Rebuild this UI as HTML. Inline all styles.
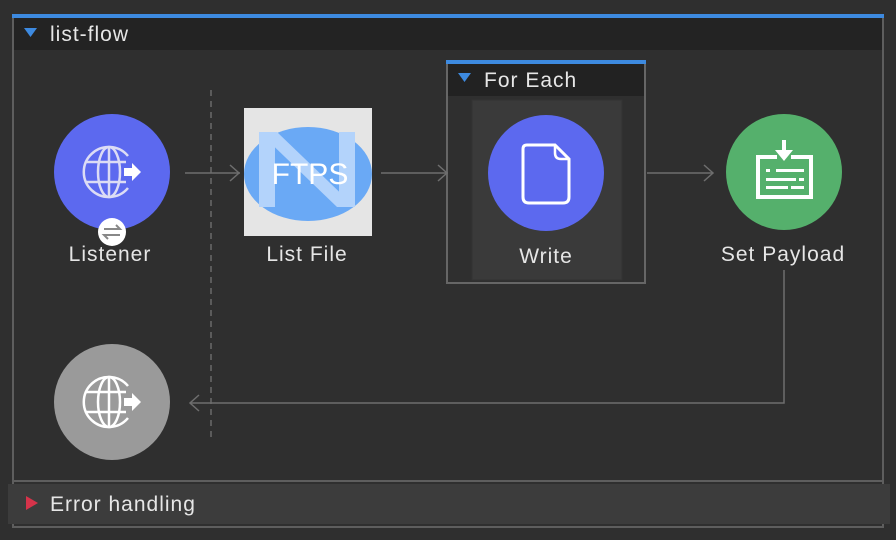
<!DOCTYPE html>
<html><head><meta charset="utf-8"><style>
html,body{margin:0;padding:0;background:#2f2f2f;width:896px;height:540px;overflow:hidden;font-family:"Liberation Sans",sans-serif;}
</style></head><body>
<svg width="896" height="540" xmlns="http://www.w3.org/2000/svg" font-family="Liberation Sans, sans-serif">
<rect width="896" height="540" fill="#2f2f2f"/>
<!-- outer frame -->
<rect x="13" y="17" width="870" height="510" fill="none" stroke="#5e5e5e" stroke-width="2"/>
<rect x="14" y="18" width="868" height="32" fill="#232323"/>
<rect x="12" y="14" width="872" height="4" fill="#3d8ae0"/>
<polygon points="24,28 37,28 30.5,37" fill="#3d8ae0"/>
<text x="50" y="41" fill="#e6e6e6" font-size="21" letter-spacing="1">list-flow</text>
<!-- error handling -->
<line x1="14" y1="481" x2="882" y2="481" stroke="#5e5e5e" stroke-width="2"/>
<rect x="8" y="484" width="882" height="40" fill="#3c3c3c"/>
<polygon points="26,496 26,510 38,503" fill="#d6334a"/>
<text x="50" y="511" fill="#e6e6e6" font-size="21" letter-spacing="1">Error handling</text>
<!-- dashed line -->
<line x1="211" y1="90" x2="211" y2="437" stroke="#6a6a6a" stroke-width="1.5" stroke-dasharray="6,5"/>
<!-- For Each -->
<rect x="447" y="62" width="198" height="221" fill="none" stroke="#666" stroke-width="2"/>
<rect x="448" y="64" width="196" height="32" fill="#222"/>
<rect x="446" y="60" width="200" height="4" fill="#3d8ae0"/>
<polygon points="458,73 471,73 464.5,82" fill="#3d8ae0"/>
<text x="484" y="87" fill="#e6e6e6" font-size="21" letter-spacing="1">For Each</text>
<rect x="472" y="100" width="150" height="180" fill="#3a3a3a" stroke="#333" stroke-width="1"/>
<!-- arrows -->
<g stroke="#6e6e6e" stroke-width="1.5" fill="none">
<line x1="185" y1="173" x2="240" y2="173"/><polyline points="230,165 239,173 230,181"/>
<line x1="381" y1="173" x2="448" y2="173"/><polyline points="438,165 447,173 438,181"/>
<line x1="647" y1="173" x2="713" y2="173"/><polyline points="704,165 713,173 704,181"/>
<polyline points="784,270 784,403 190,403"/><polyline points="199,395 190,403 199,411"/>
</g>
<!-- Listener -->
<circle cx="112" cy="172" r="58" fill="#5c69ef"/>
<g stroke="#dcdcf5" stroke-width="2.5" fill="none">
<path d="M128 156 A25 25 0 1 0 128 188"/>
<ellipse cx="109" cy="172" rx="11" ry="25"/>
<line x1="109" y1="147" x2="109" y2="197"/>
<line x1="86" y1="162" x2="126" y2="162"/><line x1="86" y1="182" x2="126" y2="182"/>
</g>
<polygon points="124,168 132,168 132,163 141,172 132,181 132,176 124,176" fill="#fff"/>
<circle cx="112" cy="232" r="14" fill="#fff"/>
<g stroke="#888" stroke-width="2" fill="none"><path d="M104 229 H120 L116 225"/><path d="M120 235 H104 L108 239"/></g>
<text x="110" y="261" fill="#e6e6e6" font-size="21" letter-spacing="1" text-anchor="middle">Listener</text>
<!-- List File -->
<rect x="244" y="108" width="128" height="128" fill="#e5e5e5"/>
<ellipse cx="308" cy="174" rx="64" ry="47" fill="#6aa9f5"/>
<g fill="#b3d3fb">
<rect x="259" y="132" width="16" height="75"/>
<rect x="339" y="132" width="16" height="75"/>
<polygon points="259,132 277,132 355,207 337,207"/>
</g>
<text x="310" y="184" fill="#fff" font-size="30" text-anchor="middle">FTPS</text>
<text x="307" y="261" fill="#e6e6e6" font-size="21" letter-spacing="1" text-anchor="middle">List File</text>
<!-- Write -->
<circle cx="546" cy="173" r="58" fill="#5c69ef"/>
<path d="M527 145 H555 L569 159 V197 Q569 203 563 203 H529 Q523 203 523 197 V149 Q523 145 527 145 Z" fill="none" stroke="#fff" stroke-width="3"/>
<path d="M555 145 V153 Q555 159 561 159 H569" fill="none" stroke="#fff" stroke-width="2.5"/>
<text x="546" y="263" fill="#e6e6e6" font-size="21" letter-spacing="1" text-anchor="middle">Write</text>
<!-- Set Payload -->
<circle cx="784" cy="172" r="58" fill="#55b06c"/>
<path d="M777 157 H758 V197 H811 V157 H791" fill="none" stroke="#fff" stroke-width="4"/>
<line x1="784" y1="140" x2="784" y2="152" stroke="#fff" stroke-width="4"/>
<polygon points="775,150 793,150 784,161" fill="#fff"/>
<g fill="#fff"><rect x="766" y="169" width="4" height="3"/><rect x="776" y="169" width="28" height="3"/>
<rect x="766" y="178" width="30" height="3"/><rect x="799" y="178" width="5" height="3"/>
<rect x="766" y="186" width="22" height="3"/><rect x="791" y="186" width="13" height="3"/></g>
<text x="783" y="261" fill="#e6e6e6" font-size="21" letter-spacing="1" text-anchor="middle">Set Payload</text>
<!-- gray listener -->
<circle cx="112" cy="402" r="58" fill="#9a9a9a"/>
<g stroke="#fff" stroke-width="2.5" fill="none">
<path d="M128 386 A25 25 0 1 0 128 418"/>
<ellipse cx="109" cy="402" rx="11" ry="25"/>
<line x1="109" y1="377" x2="109" y2="427"/>
<line x1="86" y1="392" x2="126" y2="392"/><line x1="86" y1="412" x2="126" y2="412"/>
</g>
<polygon points="124,398 132,398 132,393 141,402 132,411 132,406 124,406" fill="#fff"/>
</svg>
</body></html>
